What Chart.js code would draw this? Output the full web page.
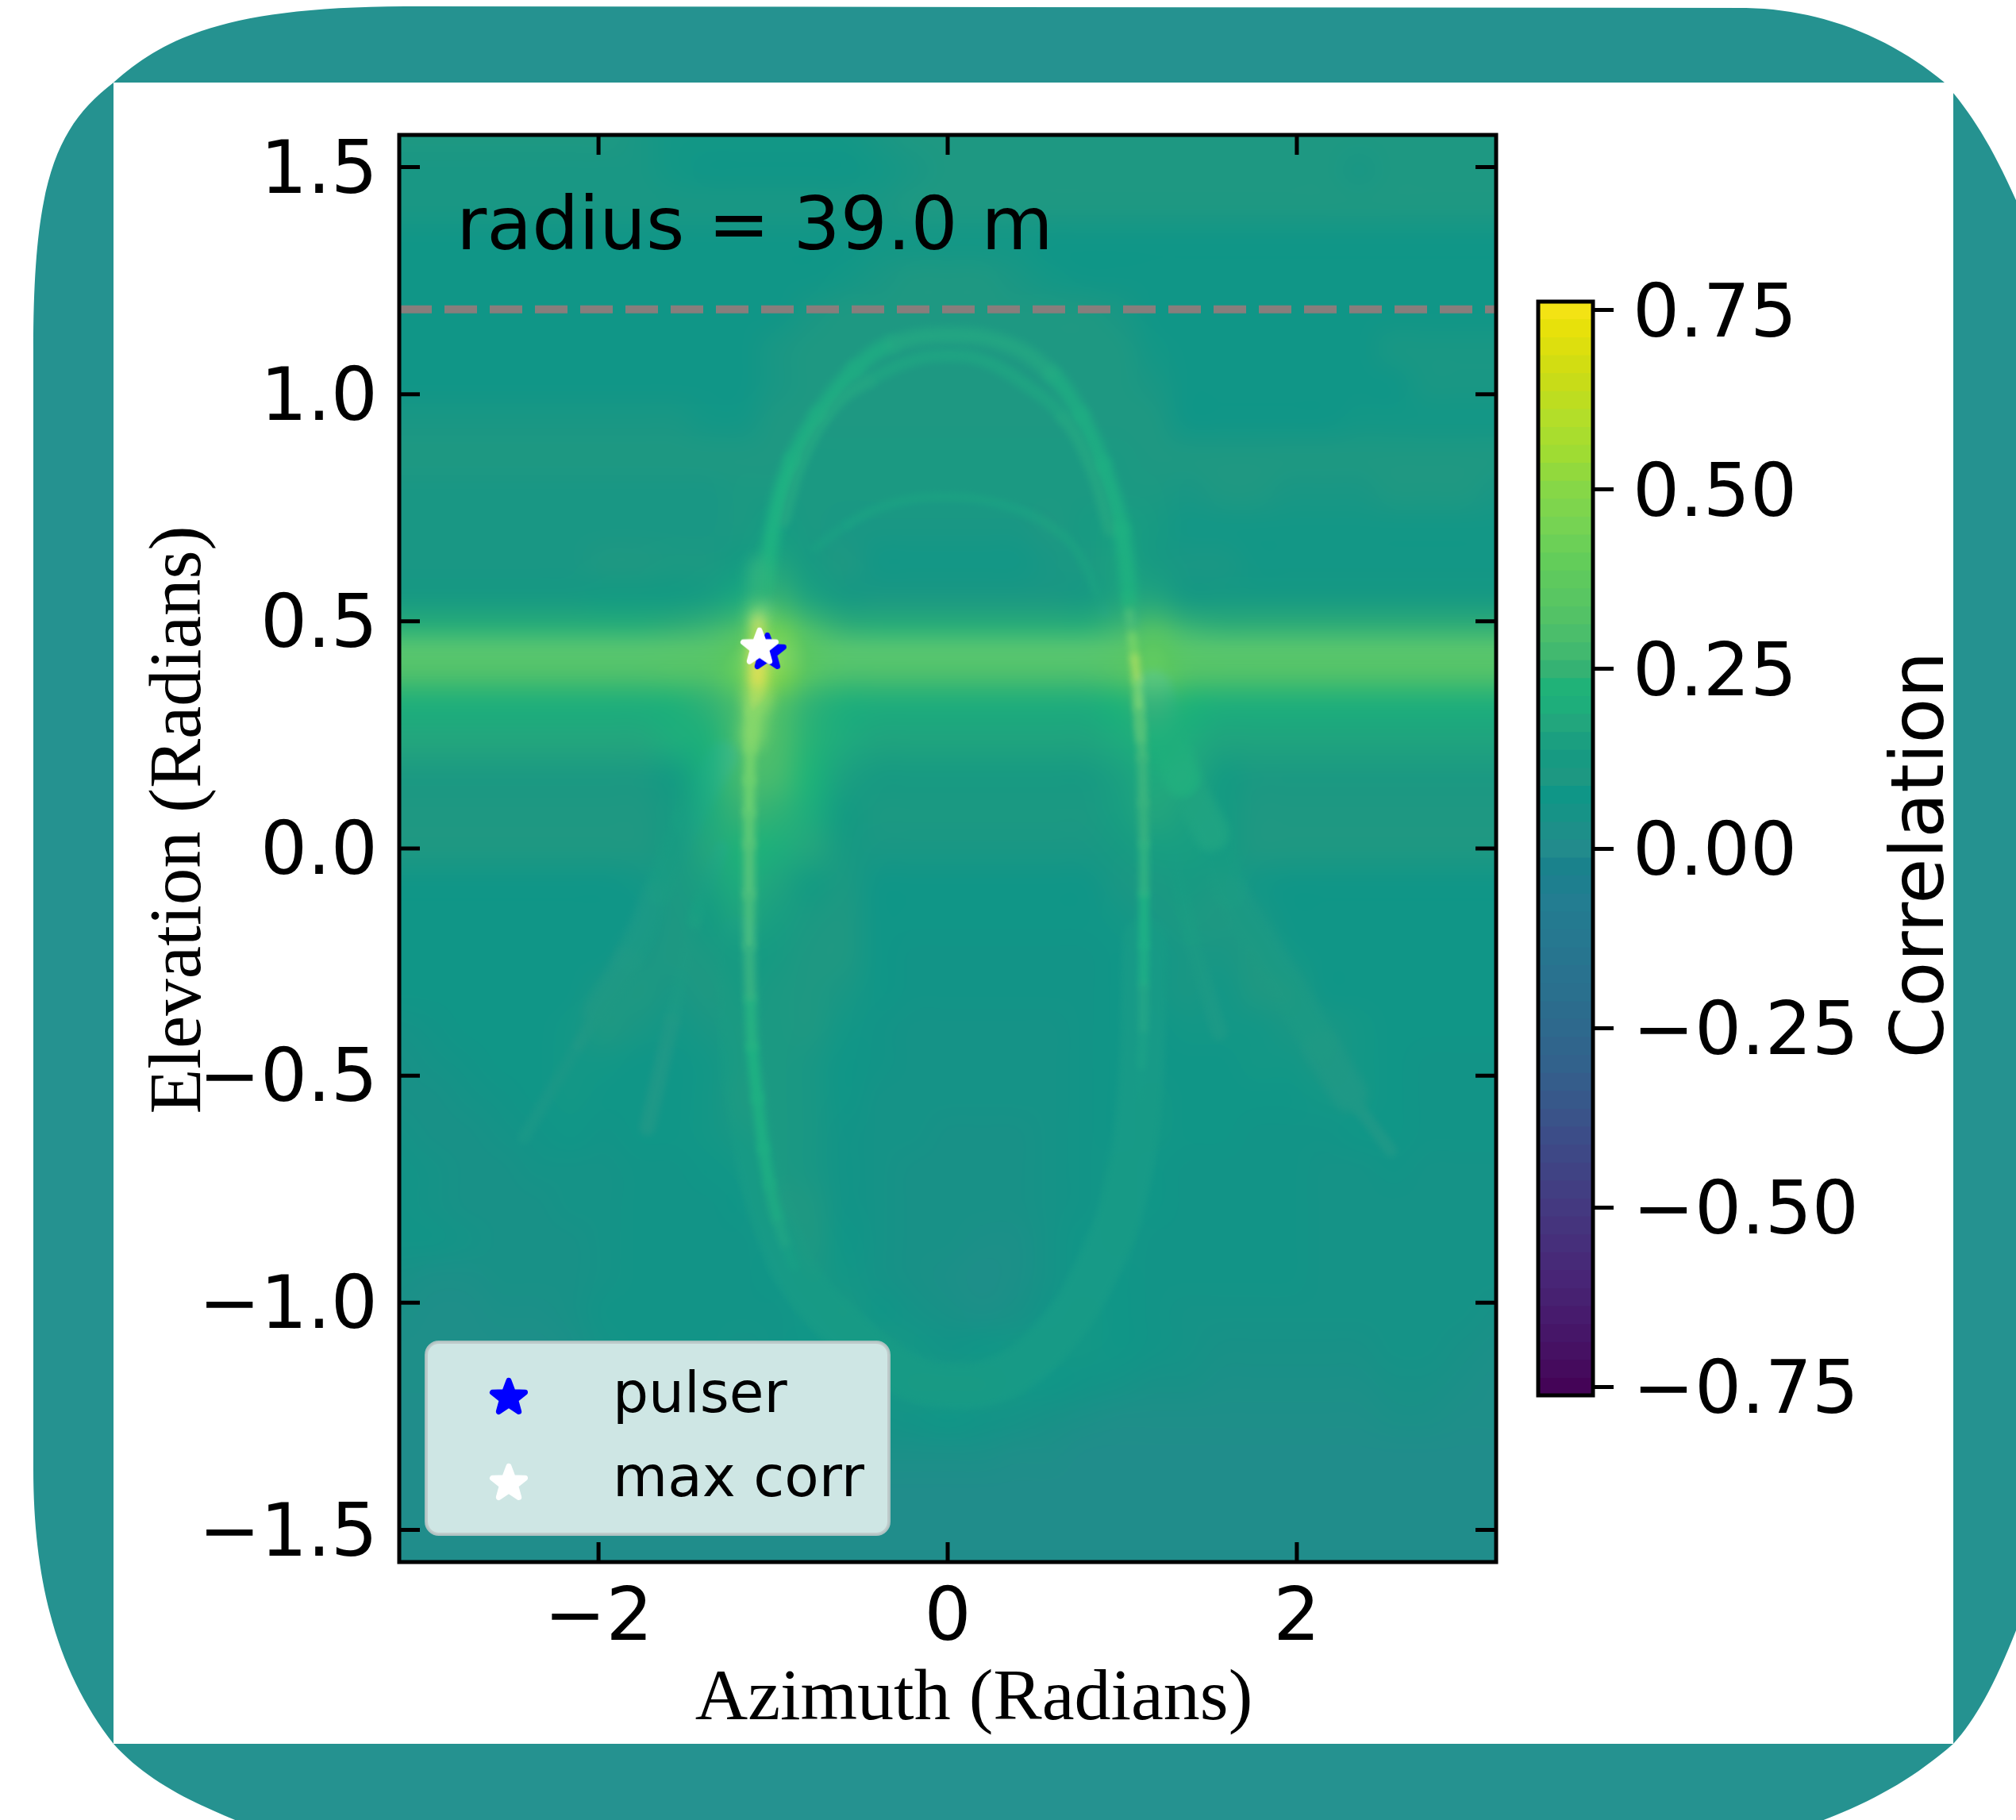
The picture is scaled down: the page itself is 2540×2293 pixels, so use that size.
<!DOCTYPE html>
<html><head><meta charset="utf-8">
<style>
html,body{margin:0;padding:0;background:#fff;width:2540px;height:2293px;overflow:hidden}
svg,canvas{position:absolute;left:0;top:0}
</style>
<script src="https://cdn.jsdelivr.net/npm/chart.js@4"></script>
</head><body>
<svg width="2540" height="2293" viewBox="0 0 2540 2293">
<path fill="#259290" d="M42,440 C42,230 70,160 143,104 C210,45 290,8 520,8 L2200,10 C2300,12 2385,50 2450,104 C2490,150 2520,200 2560,300 L2560,2000 C2525,2100 2495,2160 2461,2197 C2400,2250 2340,2280 2250,2310 L340,2310 C260,2280 190,2250 143,2197 C75,2110 42,2000 42,1850 Z"/>
<rect x="143" y="104" width="2318" height="2093" fill="#fff"/>
</svg>
<canvas id="main" width="2540" height="2293"></canvas>
<canvas id="cbar" width="2540" height="2293"></canvas>
<script>
// ---------- axes ----------
const xTicks = [-2, 0, 2];
const yTicks = [1.5, 1.0, 0.5, 0.0, -0.5, -1.0, -1.5];
const cbarTicks = [0.75, 0.5, 0.25, 0, -0.25, -0.5, -0.75];
const xLimit = [-3.1416, 3.1416];
const yLimit = [-1.5708, 1.5708];
const cbarLimit = [-0.762, 0.762];
const horizonEl = 1.187;
const pulser = {x: -1.033, y: 0.435};
const maxCorr = {x: -1.078, y: 0.446};
const legendLabels = ['pulser', 'max corr'];
const annotationText = 'radius = 39.0 m';

// ---------- colour scale: value, r, g, b ----------
const colorStops = [
 [-0.765,68,1,84],[-0.7,70,18,100],[-0.6,72,38,118],[-0.5,68,57,128],[-0.4,60,78,136],[-0.3,50,98,140],
 [-0.2,42,112,142],[-0.076,35,125,145],[-0.024,25,130,140],[0,35,140,140],[0.037,25,145,135],[0.072,15,150,135],
 [0.10,30,152,130],[0.13,20,155,130],[0.17,35,165,125],[0.18,30,170,125],[0.22,30,178,120],[0.25,55,178,115],
 [0.28,70,187,110],[0.33,85,195,100],[0.40,100,205,90],[0.44,115,210,85],[0.50,135,215,70],[0.55,160,220,50],
 [0.60,180,222,40],[0.66,205,220,20],[0.72,230,225,10],[0.765,250,228,25]];
const colorbarEdges = [-0.765,-0.74,-0.715,-0.69,-0.665,-0.64,-0.615,-0.59,-0.565,-0.54,-0.515,-0.49,-0.465,-0.44,-0.415,-0.39,-0.365,-0.34,-0.315,-0.29,-0.265,-0.24,-0.215,-0.19,-0.165,-0.14,-0.115,-0.09,-0.065,-0.04,-0.015,0.01,0.035,0.06,0.085,0.11,0.135,0.16,0.185,0.21,0.235,0.26,0.285,0.31,0.335,0.36,0.385,0.41,0.435,0.46,0.485,0.51,0.535,0.56,0.585,0.61,0.635,0.66,0.685,0.71,0.735,0.765];

// ---------- correlation map in hundredths: rows top to bottom, columns left to right ----------
const gridAzimuth = [-3.142,-2.945,-2.749,-2.553,-2.356,-2.16,-1.963,-1.767,-1.571,-1.374,-1.178,-0.982,-0.785,-0.589,-0.393,-0.196,0,0.196,0.393,0.589,0.785,0.982,1.178,1.374,1.571,1.767,1.963,2.16,2.356,2.553,2.749,2.945,3.142];
const gridElevation = [1.571,1.492,1.414,1.335,1.257,1.178,1.1,1.021,0.942,0.864,0.785,0.707,0.628,0.55,0.471,0.393,0.314,0.236,0.157,0.079,0,-0.079,-0.157,-0.236,-0.314,-0.393,-0.471,-0.55,-0.628,-0.707,-0.785,-0.864,-0.942,-1.021,-1.1,-1.178,-1.257,-1.335,-1.414,-1.492,-1.571];
const corrRows = [
[10,10,10,10,10,10,10,9,8,8,8,8,8,8,9,10,10,10,10,10,10,10,10,10,10,10,10,10,10,10,10,10,10],
[9,9,9,9,9,9,9,9,8,7,7,7,7,7,8,9,10,10,10,10,10,10,10,10,10,10,10,10,9,10,10,10,10],
[9,9,9,9,9,9,9,9,9,9,9,9,9,9,9,10,10,10,10,10,10,10,10,10,10,10,10,10,10,10,10,10,10],
[7,7,7,7,7,7,7,7,7,7,7,7,7,7,8,8,8,8,8,7,7,7,7,7,7,7,7,7,7,7,7,7,7],
[7,7,7,7,7,7,7,7,7,7,7,7,7,8,9,10,10,10,9,8,7,7,7,7,7,7,7,7,7,7,7,7,7],
[7,7,7,7,7,7,7,7,7,7,7,7,9,10,10,10,10,10,10,10,10,9,7,7,7,7,7,7,7,7,7,7,7],
[7,7,7,7,7,7,7,7,7,7,7,9,10,10,10,10,10,10,10,10,10,10,8,7,7,7,7,7,7,9,9,9,9],
[7,7,7,7,7,7,7,7,7,7,7,9,10,10,10,10,10,10,10,10,10,10,9,7,7,7,7,7,7,7,9,9,9],
[9,9,9,9,9,9,9,9,9,8,8,10,10,10,10,10,10,10,10,10,10,10,10,7,7,7,7,7,8,8,8,8,8],
[10,10,10,10,10,10,10,10,10,10,10,10,11,11,11,11,11,11,11,11,11,11,10,10,10,10,10,10,10,10,10,10,10],
[9,9,9,9,9,9,9,9,9,9,11,11,11,11,11,11,11,11,11,11,11,11,11,9,10,10,9,9,9,10,10,10,9],
[9,9,9,9,9,9,9,9,9,9,11,13,11,9,9,9,9,9,9,10,12,14,12,8,8,8,8,8,8,8,8,8,8],
[9,9,9,9,9,9,10,10,11,11,13,16,12,10,8,8,8,8,8,9,11,15,12,9,9,8,8,8,8,8,8,8,8],
[12,12,12,12,12,12,13,13,13,14,18,25,16,12,11,11,11,11,11,11,12,16,17,12,12,12,12,12,12,12,12,12,12],
[24,24,24,24,24,24,24,24,25,27,33,45,31,25,24,24,24,24,24,24,24,27,34,27,25,25,25,25,25,25,25,25,25],
[30,30,30,30,30,30,30,30,31,32,42,50,34,29,29,29,29,29,29,29,29,32,39,32,31,31,31,31,31,31,31,31,31],
[20,20,20,20,20,20,20,20,21,24,30,32,24,20,19,19,19,19,19,19,19,22,25,22,20,20,20,20,20,20,20,20,20],
[17,17,17,17,17,17,17,17,19,21,29,30,23,18,16,16,16,16,16,16,16,18,21,19,16,16,16,16,16,16,16,16,16],
[11,11,11,11,11,11,11,11,13,20,28,28,22,15,12,12,12,12,12,12,12,15,18,17,13,11,11,11,11,11,11,11,11],
[10,10,10,10,10,10,10,10,12,18,25,24,19,13,11,11,11,11,11,11,11,14,17,15,13,10,10,10,10,10,10,10,10],
[10,10,10,10,10,10,10,10,12,17,22,20,17,12,9,9,9,9,9,9,9,12,14,14,13,10,10,10,10,10,10,10,10],
[7,7,7,7,7,7,7,8,11,15,19,16,13,11,7,7,7,7,7,7,7,9,11,12,11,8,7,7,7,7,7,7,7],
[7,7,7,7,7,7,7,7,10,13,16,14,11,10,7,7,7,7,7,7,7,8,9,11,10,9,7,7,7,7,7,7,7],
[7,7,7,7,7,7,7,9,10,11,13,12,10,10,7,6,6,6,6,6,6,7,8,9,9,10,8,7,7,7,7,7,7],
[7,7,7,7,7,7,9,10,9,10,12,11,10,9,7,6,6,6,6,6,6,7,8,9,8,10,10,7,7,7,7,7,7],
[5,6,7,7,7,8,10,9,8,9,11,11,10,8,6,5,5,5,5,5,6,7,7,8,8,8,9,9,8,7,7,7,7],
[4,5,6,7,7,8,8,7,7,8,11,11,9,7,6,5,5,5,5,5,6,7,7,7,7,8,8,9,8,7,6,6,6],
[4,4,5,6,7,8,7,7,7,8,10,11,9,7,5,5,5,5,5,5,6,7,8,7,7,7,7,8,8,7,6,6,6],
[5,4,4,5,6,7,6,7,7,8,9,11,9,6,5,5,4,4,4,5,6,7,8,7,7,6,6,6,7,7,6,6,6],
[6,5,4,4,5,5,5,6,6,7,8,11,9,6,5,4,4,4,4,5,6,8,7,6,6,6,6,5,5,6,5,5,5],
[6,5,4,4,4,5,5,6,6,6,7,10,10,6,5,4,4,4,4,5,6,8,7,6,6,6,6,5,5,5,5,5,5],
[6,6,5,4,4,4,5,6,6,6,6,8,10,7,5,4,4,3,3,5,7,8,6,6,6,6,6,5,5,5,5,5,5],
[4,3,3,4,4,4,5,6,6,6,6,7,9,8,5,4,3,2,3,5,7,7,6,6,6,6,6,5,5,5,5,5,5],
[3,2,2,3,3,4,6,6,6,6,6,6,8,9,7,5,4,3,4,6,8,7,6,5,5,5,5,5,5,5,5,5,4],
[2,2,2,2,2,3,5,6,6,6,5,6,7,8,9,8,6,7,8,8,8,7,6,5,4,4,4,4,4,5,5,4,3],
[2,2,2,2,2,3,4,5,5,5,5,5,5,6,8,9,9,9,8,7,6,5,4,4,3,3,3,3,3,4,4,3,2],
[1,1,1,1,2,2,3,4,4,4,4,4,4,4,5,6,7,6,5,4,3,2,2,2,2,2,2,2,2,3,3,2,2],
[1,1,1,1,1,1,1,2,2,2,3,3,3,3,3,3,3,3,2,2,1,1,1,1,1,1,1,1,1,1,1,1,1],
[1,1,1,1,1,1,1,1,1,1,1,1,1,1,1,1,1,1,1,1,1,1,1,1,1,1,1,1,1,1,1,1,1],
[1,1,1,1,1,1,1,1,1,1,1,1,1,1,1,1,1,1,1,1,1,1,1,1,1,1,1,1,1,1,1,1,1],
[1,1,1,1,1,1,1,1,1,1,1,1,1,1,1,1,1,1,1,1,1,1,1,1,1,1,1,1,1,1,1,1,1]];

// ---------- ridges: azimuth, elevation, correlation ----------
const peakBand = [[-3.5,.425,.35],[0,.425,.35],[3.5,.425,.35]];
const ellipseBand = [[-1.2,-0.2,.12],[-1.17,-0.44,.12],[-1.1,-0.66,.12],[-0.99,-0.82,.12],[-0.84,-0.95,.12],[-0.58,-1.06,.12],[-0.28,-1.15,.12],[0.01,-1.183,.12],[0.34,-1.16,.12],[0.64,-1.06,.12],[0.85,-0.93,.12],[1.01,-0.77,.12],[1.1,-0.55,.12],[1.13,-0.2,.12]];
const outerArc = [[-1.055,.544,.22],[-0.99,.724,.22],[-0.887,.854,.2],[-0.74,.954,.19],[-0.53,1.054,.18],[-0.32,1.11,.17],[0.01,1.13,.17],[0.343,1.11,.17],[0.594,1.045,.18],[0.76,.954,.19],[0.886,.844,.2],[0.993,.703,.21],[1.053,.503,.25]];
const innerArc = [[-0.94,.72,.17],[-0.84,.85,.17],[-0.66,.97,.17],[-0.45,1.03,.16],[-0.2,1.075,.16],[0,1.085,.16],[0.2,1.075,.16],[0.45,1.02,.16],[0.66,.95,.17],[0.82,.84,.17],[0.93,.7,.18]];
const smallLoop = [[-0.765,.659,.14],[-0.575,.713,.15],[-0.323,.759,.15],[0.01,.774,.15],[0.343,.754,.15],[0.594,.708,.15],[0.76,.643,.15],[0.9,.52,.15]];
const leftVertical = [[-1.09,.36,.5],[-1.12,.3,.46],[-1.13,.22,.44],[-1.135,.15,.42],[-1.137,.08,.37],[-1.137,.01,.33],[-1.137,-.1,.29],[-1.137,-.213,.25],[-1.13,-.33,.23],[-1.12,-.437,.22],[-1.09,-.55,.21],[-1.055,-.66,.2],[-1.02,-.74,.18],[-.974,-.816,.16],[-.93,-.87,.14],[-.88,-.92,.12]];
const rightVertical = [[1.09,.34,.3],[1.105,.27,.28],[1.115,.2,.26],[1.12,.1,.25],[1.124,.01,.24],[1.124,-.1,.22],[1.124,-.213,.2],[1.122,-.3,.17],[1.12,-.4,.15],[1.11,-.48,.13],[1.097,-.55,.12]];
const leftHorn = [[-1.29,.203,.14],[-1.495,.06,.13],[-1.66,-.1,.11],[-1.83,-.25,.1],[-2.0,-.36,.1]];
const leftTail = [[-1.95,-.33,.1],[-2.12,-.437,.09],[-2.43,-.638,.08]];
const leftInnerHorn = [[-1.3,.0,.14],[-1.45,-.16,.11],[-1.58,-.38,.1],[-1.72,-.615,.09]];
const rightHorn = [[1.18,.353,.2],[1.347,.152,.16],[1.51,.033,.13],[1.62,-.1,.11],[1.85,-.247,.11],[2.14,-.437,.1],[2.3,-.54,.1]];
const rightTail = [[2.14,-.437,.1],[2.3,-.54,.1],[2.54,-.666,.09]];
const rightInnerHorn = [[1.3,-.02,.13],[1.4,-.2,.11],[1.556,-.404,.09]];
const starGlow = [[-1.08,.62,.24],[-1.08,.52,.45],[-1.08,.43,.6],[-1.09,.33,.5],[-1.12,.24,.42]];
const starCore = [[-1.085,.5,.62],[-1.085,.43,.7],[-1.09,.37,.64]];
const rightPeak = [[1.03,.56,.22],[1.04,.52,.3],[1.055,.47,.45],[1.07,.42,.56],[1.085,.37,.46],[1.095,.31,.34],[1.105,.24,.26]];

// ridge name, data, line width, blur
const ridges = [
 ['peak band', peakBand, 38, 13],
 ['ellipse band', ellipseBand, 58, 4],
 ['left horn', leftHorn, 38, 6],
 ['left tail', leftTail, 16, 4],
 ['left inner horn', leftInnerHorn, 20, 4],
 ['right horn', rightHorn, 46, 6],
 ['right tail', rightTail, 16, 4],
 ['right inner horn', rightInnerHorn, 22, 4],
 ['small loop', smallLoop, 12, 4],
 ['outer arc', outerArc, 20, 6],
 ['inner arc', innerArc, 16, 5],
 ['left vertical', leftVertical, 14, 5],
 ['right vertical', rightVertical, 12, 4],
 ['star glow', starGlow, 26, 10],
 ['star core', starCore, 16, 7],
 ['right peak', rightPeak, 10, 5]
];

// ---------- helpers ----------
function corrColor(v){
  const s = colorStops;
  if (v <= s[0][0]) return s[0].slice(1);
  for (let i = 1; i < s.length; i++) {
    if (v <= s[i][0]) {
      const f = (v - s[i-1][0]) / (s[i][0] - s[i-1][0]);
      return [1,2,3].map(k => Math.round(s[i-1][k] + f * (s[i][k] - s[i-1][k])));
    }
  }
  return s[s.length-1].slice(1);
}
const rgb = v => 'rgb(' + corrColor(v).join(',') + ')';
function starSprite(color, size){
  const c = document.createElement('canvas'); c.width = c.height = size;
  const g = c.getContext('2d'), R = size * 0.36, r = R * 0.42;
  g.translate(size/2, size/2 + 2); g.beginPath();
  for (let i = 0; i < 10; i++) {
    const a = -Math.PI/2 + i * Math.PI/5, q = i % 2 ? r : R;
    g[i ? 'lineTo' : 'moveTo'](q*Math.cos(a), q*Math.sin(a));
  }
  g.closePath(); g.fillStyle = g.strokeStyle = color; g.lineWidth = 7; g.lineJoin = 'round'; g.fill(); g.stroke();
  return c;
}
const blueStar = starSprite('#0000ff', 60), whiteStar = starSprite('#ffffff', 60);
const SANS = '"DejaVu Sans"', SERIF = '"Liberation Serif"';

// ---------- datasets ----------
const heatPoints = [];
gridElevation.forEach((el, r) => gridAzimuth.forEach((az, c) => heatPoints.push({x: az, y: el, v: corrRows[r][c] / 100})));
const datasets = [{label:'Correlation', heatmap:true, data:heatPoints, pointRadius:0, showLine:false}];
ridges.forEach(([label, pts, w, blur]) => datasets.push({
  label, type:'line', blurPx: blur, borderWidth: w, tension: .4, pointRadius: 0, fill:false,
  borderCapStyle:'round', borderJoinStyle:'round',
  data: pts.map(p => ({x:p[0], y:p[1], v:p[2]})),
  borderColor: rgb(pts[0][2]),
  segment: {borderColor: c => rgb(pts[c.p0DataIndex][2])}
}));
datasets.push({label:'horizon', type:'line', data: xLimit.map(x => ({x, y: horizonEl})), borderColor:'#877e7c', borderWidth:10, borderDash:[41,16], pointRadius:0, tension:0});
datasets.push({label:'pulser', data:[pulser], pointStyle: blueStar, pointRadius: 25, showLine:false});
datasets.push({label:'max corr', data:[maxCorr], pointStyle: whiteStar, pointRadius: 25, showLine:false});
datasets.forEach((d, i) => d.order = datasets.length - i);

// ---------- plugins ----------
const heatPlugin = {
  id:'heat',
  beforeDatasetDraw(chart, args){
    const ds = chart.data.datasets[args.index], ctx = chart.ctx;
    if (ds.heatmap) {
      const nC = gridAzimuth.length, nR = gridElevation.length, off = document.createElement('canvas');
      off.width = nC; off.height = nR;
      const g = off.getContext('2d'), im = g.createImageData(nC, nR);
      ds.data.forEach((p, i) => { const c = corrColor(p.v); im.data.set([c[0],c[1],c[2],255], i*4); });
      g.putImageData(im, 0, 0);
      const m = args.meta.data, a = m[0], b = m[m.length-1];
      ctx.save(); ctx.imageSmoothingEnabled = true; ctx.imageSmoothingQuality = 'high';
      ctx.drawImage(off, .5, .5, nC-1, nR-1, a.x, a.y, b.x-a.x, b.y-a.y);
      ctx.restore();
      return false;
    }
    if (ds.blurPx) { ctx.save(); ctx.filter = 'blur(' + ds.blurPx + 'px)'; ctx.globalCompositeOperation = 'lighten'; ds._blurred = true; }
  },
  afterDatasetDraw(chart, args){
    const ds = chart.data.datasets[args.index];
    if (ds._blurred) { chart.ctx.restore(); ds._blurred = false; }
  },
  afterDraw(chart){
    const ctx = chart.ctx, {left, right, top, bottom} = chart.chartArea, xs = chart.scales.x, ys = chart.scales.y;
    ctx.save(); ctx.strokeStyle = '#000'; ctx.lineWidth = 5;
    ctx.beginPath();
    xTicks.forEach(t => { const p = xs.getPixelForValue(t); ctx.moveTo(p, top); ctx.lineTo(p, top+25); ctx.moveTo(p, bottom); ctx.lineTo(p, bottom-25); });
    yTicks.forEach(t => { const p = ys.getPixelForValue(t); ctx.moveTo(left, p); ctx.lineTo(left+26, p); ctx.moveTo(right, p); ctx.lineTo(right-26, p); });
    ctx.stroke();
    ctx.strokeRect(left, top, right-left, bottom-top);
    // annotation
    ctx.fillStyle = '#000'; ctx.font = '93px ' + SANS; ctx.textAlign = 'left'; ctx.textBaseline = 'alphabetic';
    ctx.fillText(annotationText, 575, 314);
    // legend
    const lx = 537, ly = 1691, lw = 583, lh = 242;
    ctx.beginPath(); ctx.roundRect(lx, ly, lw, lh, 16);
    ctx.fillStyle = '#cee6e4'; ctx.fill(); ctx.lineWidth = 4; ctx.strokeStyle = 'rgba(190,200,200,.9)'; ctx.stroke();
    ctx.drawImage(blueStar, 611, 1729); ctx.drawImage(whiteStar, 611, 1837);
    ctx.fillStyle = '#000'; ctx.font = '71px ' + SANS;
    ctx.fillText(legendLabels[0], 772, 1779); ctx.fillText(legendLabels[1], 772, 1885);
    ctx.restore();
  }
};
const minusFmt = (v, d) => (v < 0 ? '\u2212' : '') + Math.abs(v).toFixed(d);
function shiftDraw(scale, method, dx, dy){
  const key = '_shift_' + method;
  if (scale[key]) return;
  scale[key] = true;
  const orig = scale[method];
  scale[method] = function(){ const c = this.ctx; c.save(); c.translate(dx, dy); orig.apply(this, arguments); c.restore(); };
}
Chart.defaults.animation = false;
new Chart(document.getElementById('main'), {
  type:'scatter',
  data:{datasets},
  options:{
    responsive:false, animation:false, events:[],
    layout:{autoPadding:false, padding:{left:120, top:170, right:655, bottom:50}},
    plugins:{legend:{display:false}, tooltip:{enabled:false}},
    scales:{
      x:{type:'linear', min:xLimit[0], max:xLimit[1],
        afterBuildTicks:s => { s.ticks = xTicks.map(value => ({value})); },
        afterFit:s => { s.height = 275; shiftDraw(s, 'drawTitle', 33, -46); },
        grid:{display:false}, border:{display:false},
        ticks:{color:'#000', font:{family:SANS, size:93}, padding:10, maxRotation:0, autoSkip:false, callback:v => minusFmt(v, 0)},
        title:{display:true, text:'Azimuth (Radians)', color:'#000', font:{family:SERIF, size:92}, padding:0}},
      y:{type:'linear', min:yLimit[0], max:yLimit[1],
        afterBuildTicks:s => { s.ticks = yTicks.map(value => ({value})); },
        afterFit:s => { s.width = 383; shiftDraw(s, 'drawTitle', 52, -36); shiftDraw(s, 'drawLabels', 0, 8); },
        grid:{display:false}, border:{display:false},
        ticks:{color:'#000', font:{family:SANS, size:93}, padding:19, autoSkip:false, callback:v => minusFmt(v, 1)},
        title:{display:true, text:'Elevation (Radians)', color:'#000', font:{family:SERIF, size:93}, padding:0}}
    }
  },
  plugins:[heatPlugin]
});

// ---------- colour bar ----------
const cbarSets = colorbarEdges.slice(0, -1).map((lo, i) => {
  const hi = colorbarEdges[i+1];
  return {label:'level ' + i, data:[[lo, hi + .002]], backgroundColor: rgb((lo+hi)/2), barPercentage:1, categoryPercentage:1, grouped:false};
});
new Chart(document.getElementById('cbar'), {
  type:'bar',
  data:{labels:['Correlation'], datasets:cbarSets},
  options:{
    responsive:false, animation:false, events:[],
    layout:{autoPadding:false, padding:{left:1938, top:380, right:33, bottom:535}},
    plugins:{legend:{display:false}, tooltip:{enabled:false}},
    scales:{
      x:{display:false, stacked:false},
      y:{type:'linear', position:'right', min:cbarLimit[0], max:cbarLimit[1],
        afterBuildTicks:s => { s.ticks = cbarTicks.map(value => ({value})); },
        afterFit:s => { s.width = 500; shiftDraw(s, 'drawLabels', 0, 9); },
        grid:{drawOnChartArea:false, drawTicks:true, tickLength:26, color:'#000', lineWidth:5}, border:{display:false},
        ticks:{color:'#000', font:{family:SANS, size:93}, padding:24, autoSkip:false, callback:v => minusFmt(v, 2)}},
      t:{type:'linear', position:'left', min:0, max:1,
        afterFit:s => { s.width = 0; shiftDraw(s, 'drawTitle', 430, 8); },
        grid:{display:false}, border:{display:false}, ticks:{display:false},
        title:{display:true, text:'Correlation', color:'#000', font:{family:SANS, size:93}, padding:0}}
    }
  },
  plugins:[{id:'frame', afterDraw(chart){
    const c = chart.ctx, a = chart.chartArea;
    c.save(); c.strokeStyle = '#000'; c.lineWidth = 5; c.strokeRect(a.left, a.top, a.right-a.left, a.bottom-a.top);
    c.restore();
  }}]
});
</script>
</body></html>
